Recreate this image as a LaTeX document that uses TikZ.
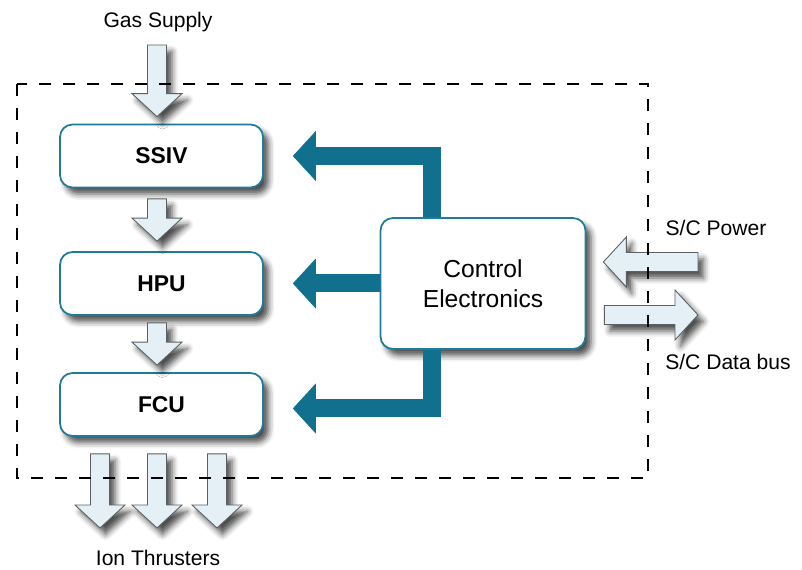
\documentclass[tikz,border=0pt]{standalone}
\usepackage{fontspec}
\setmainfont{Liberation Sans}
\usepackage{tikz}
\usetikzlibrary{calc}
\usetikzlibrary{arrows.meta}
\usetikzlibrary{shadows.blur}
\definecolor{ctrlteal}{RGB}{16,112,142}
\definecolor{boxteal}{RGB}{30,124,154}
\definecolor{pipefill}{RGB}{228,240,246}
\definecolor{pipeedge}{RGB}{90,96,100}
\tikzset{
   soft shadow/.style={
      blur shadow={shadow xshift=1.1mm, shadow yshift=-1.3mm,
        shadow blur radius=1.2mm, shadow opacity=70}},
   unit/.style={
      draw=boxteal, line width=1pt, fill=white,
      rounded corners=0.25cm,
      minimum width=4.06cm, minimum height=1.26cm,
      font=\fontsize{13}{15}\selectfont\bfseries,
      soft shadow},
   electronics/.style={
      unit, minimum width=4.1cm, minimum height=2.62cm, align=center,
      font=\fontsize{14}{17}\selectfont},
   label/.style={font=\fontsize{12}{14}\selectfont, inner sep=0pt},
   fat start gap/.store in=\fatsgap, fat start gap=0pt,
   fat end gap/.store in=\fategap, fat end gap=0pt,
   % outlined block arrow from the start point to the target point
   fatarrow/.style={
      draw=pipeedge, fill=pipefill, line width=0.5pt, soft shadow,
      to path={
        ($(\tikztostart)!\fatsgap!(\tikztotarget)$) coordinate (fa-s)
        ($(\tikztotarget)!\fategap!(\tikztostart)$) coordinate (fa-t)
        ($(fa-t)!0.46cm!(fa-s)$) coordinate (fa-h)
        (fa-s) -- ($(fa-s)!0.19cm!90:(fa-t)$)
        -- ($(fa-h)!0.19cm!90:(fa-t)$)
        -- ($(fa-h)!0.5cm!90:(fa-t)$)
        -- (fa-t)
        -- ($(fa-h)!0.5cm!-90:(fa-t)$)
        -- ($(fa-h)!0.19cm!-90:(fa-t)$)
        -- ($(fa-s)!0.19cm!-90:(fa-t)$)
        -- cycle}},
   ctrlarrow/.style={
      draw=ctrlteal, line width=0.36cm,
      -{Triangle[length=0.46cm, width=1cm, line width=0.4pt]},
      shorten >=0.58cm},
   fence/.style={
      draw=black, line width=1.1pt,
      dash pattern=on 0.24cm off 0.24cm},
}
\begin{document}
\begin{tikzpicture}[x=0.02cm, y=-0.02cm]
            \useasboundingbox (0,0) rectangle (802,570);
            % units of the feed line
            \node[unit] (ssiv) at (161.5,156) {SSIV};
            \node[unit] (hpu) at (161.5,283.5) {HPU};
            \node[unit] (fcu) at (161.5,404.5) {FCU};
            \node[electronics] (ctrl) at (483,283.5) {Control\\Electronics};
            % outside labels
            \node[label] (gas) at (158,22) {Gas Supply};
            \node[label] (ion) at (158,558) {Ion Thrusters};
            \node[label] (power) at (716,228) {S/C Power};
            \node[label] (data) at (728,362) {S/C Data bus};
            % gas flow
            \coordinate (gasin) at (157,45);
            \draw[fatarrow, fat end gap=0.14cm] (gasin) to (gasin |- ssiv.north);
            \draw[fatarrow, fat start gap=0.21cm, fat end gap=0.2cm]
               (ssiv.south -| gasin) to (hpu.north -| gasin);
            \draw[fatarrow, fat start gap=0.14cm, fat end gap=0.14cm]
               (hpu.south -| gasin) to (fcu.north -| gasin);
            \foreach \tx/\nm in {100/a,157/b,217/c}{
               \coordinate (thr\nm) at (\tx,528);
               \draw[fatarrow, fat start gap=0.34cm] (fcu.south -| thr\nm) to (thr\nm);
            }
            % spacecraft interface
            \coordinate (pwrin) at (698,262);
            \coordinate (dataout) at (698,315);
            \draw[fatarrow, fat end gap=0.34cm] (pwrin) to (ctrl.east |- pwrin);
            \draw[fatarrow, fat start gap=0.36cm] (ctrl.east |- dataout) to (dataout);
            % control lines
            \draw[ctrlarrow] (ctrl.north -| 431.5,0) |- (ssiv.east);
            \draw[ctrlarrow] (ctrl.west) -- (hpu.east);
            \draw[ctrlarrow] (ctrl.south -| 431.5,0) |- ($(fcu.east)+(0,4)$);
            % thruster module boundary
            \draw[fence] (17,84) rectangle (648,478);
        \end{tikzpicture}
\end{document}
